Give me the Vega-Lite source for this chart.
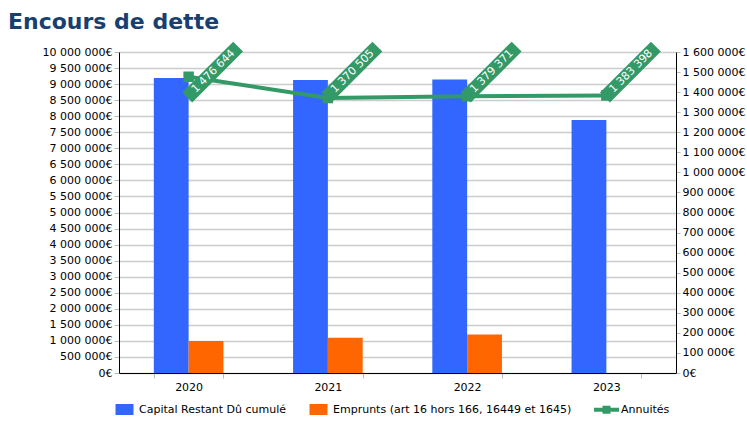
{
  "$schema": "https://vega.github.io/schema/vega-lite/v6.json",
  "width": 557,
  "height": 321,
  "padding": {"left": 8, "top": 10, "right": 2, "bottom": 2},
  "background": "white",
  "config": {
    "font": "DejaVu Sans",
    "locale": {"number": {"decimal": ",", "thousands": " ", "grouping": [3], "currency": ["", "€"]}},
    "view": {"stroke": null},
    "axis": {"labelFont": "DejaVu Sans", "labelFontSize": 11, "labelColor": "#000", "domainColor": "#000", "tickColor": "#bbb", "gridColor": "#cccccc", "gridWidth": 1.3, "labelOverlap": false}
  },
  "title": {"text": "Encours de dette", "anchor": "start", "frame": "group", "dx": -111, "fontSize": 22, "fontWeight": "bold", "color": "#173f6f", "offset": 8},
  "datasets": {
    "barres": [
      {"annee": "2020", "serie": "Capital Restant Dû cumulé", "valeur": 9190000},
      {"annee": "2020", "serie": "Emprunts (art 16 hors 166, 16449 et 1645)", "valeur": 1000000},
      {"annee": "2021", "serie": "Capital Restant Dû cumulé", "valeur": 9130000},
      {"annee": "2021", "serie": "Emprunts (art 16 hors 166, 16449 et 1645)", "valeur": 1100000},
      {"annee": "2022", "serie": "Capital Restant Dû cumulé", "valeur": 9140000},
      {"annee": "2022", "serie": "Emprunts (art 16 hors 166, 16449 et 1645)", "valeur": 1200000},
      {"annee": "2023", "serie": "Capital Restant Dû cumulé", "valeur": 7880000}
    ],
    "annuites": [
      {"annee": "2020", "serie": "Annuités", "valeur": 1476644},
      {"annee": "2021", "serie": "Annuités", "valeur": 1370505},
      {"annee": "2022", "serie": "Annuités", "valeur": 1379371},
      {"annee": "2023", "serie": "Annuités", "valeur": 1383398}
    ]
  },
  "layer": [
    {
      "data": {"name": "barres"},
      "mark": {"type": "bar"},
      "encoding": {
        "x": {"field": "annee", "type": "nominal", "scale": {"paddingInner": 0.5, "paddingOuter": 0.25},
              "axis": {"title": null, "labelAngle": 0, "tickBand": "extent", "tickSize": 5, "labelPadding": 3, "grid": false}},
        "xOffset": {"field": "serie", "type": "nominal", "scale": {"domain": ["Capital Restant Dû cumulé", "Emprunts (art 16 hors 166, 16449 et 1645)"]}},
        "y": {"field": "valeur", "type": "quantitative", "scale": {"domain": [0, 10000000]},
              "axis": {"title": null, "format": "$,d", "tickSize": 5, "labelPadding": 2,
                       "values": [0, 500000, 1000000, 1500000, 2000000, 2500000, 3000000, 3500000, 4000000, 4500000, 5000000, 5500000, 6000000, 6500000, 7000000, 7500000, 8000000, 8500000, 9000000, 9500000, 10000000]}},
        "color": {"field": "serie", "type": "nominal",
                  "scale": {"domain": ["Capital Restant Dû cumulé", "Emprunts (art 16 hors 166, 16449 et 1645)", "Annuités"], "range": ["#3366ff", "#ff6600", "#339966"]},
                  "legend": {"orient": "bottom", "direction": "horizontal", "title": null, "labelFontSize": 11, "labelColor": "#000", "labelLimit": 400, "symbolSize": 100, "labelOffset": 9, "columnPadding": 22, "offset": 12,
                             "encode": {"symbols": {"update": {
                               "shape": {"signal": "datum.value === 'Annuités' ? 'M-2.5,-0.4H2.5V0.4H-2.5Z M-0.8,-0.8H0.8V0.8H-0.8Z' : 'M-1.8,-1.1H1.8V1.1H-1.8Z'"},
                               "fill": {"signal": "scale('color', datum.value)"},
                               "strokeWidth": {"value": 0},
                               "opacity": {"value": 1}}}}}}
      }
    },
    {
      "data": {"name": "annuites"},
      "mark": {"type": "line", "strokeWidth": 4},
      "encoding": {
        "x": {"field": "annee", "type": "nominal"},
        "y": {"field": "valeur", "type": "quantitative", "scale": {"domain": [0, 1600000]},
              "axis": {"orient": "right", "title": null, "grid": false, "format": "$,d", "tickSize": 4, "labelPadding": 2, "labelOverlap": false,
                       "values": [0, 100000, 200000, 300000, 400000, 500000, 600000, 700000, 800000, 900000, 1000000, 1100000, 1200000, 1300000, 1400000, 1500000, 1600000]}},
        "color": {"field": "serie", "type": "nominal"}
      }
    },
    {
      "data": {"name": "annuites"},
      "mark": {"type": "point", "filled": true, "shape": "square", "size": 110, "color": "#339966", "opacity": 1},
      "encoding": {
        "x": {"field": "annee", "type": "nominal"},
        "y": {"field": "valeur", "type": "quantitative", "scale": {"domain": [0, 1600000]}, "axis": null}
      }
    },
    {
      "data": {"name": "annuites"},
      "mark": {"type": "point", "filled": true, "shape": "M-0.127,-0.071L0.071,0.127L1.089,-0.891L0.891,-1.089Z", "size": 10000, "color": "#339966", "opacity": 1, "strokeWidth": 0},
      "encoding": {
        "x": {"field": "annee", "type": "nominal"},
        "y": {"datum": 1380000, "type": "quantitative", "scale": {"domain": [0, 1600000]}, "axis": null}
      }
    },
    {
      "data": {"name": "annuites"},
      "mark": {"type": "text", "align": "left", "baseline": "middle", "angle": 315, "dx": 7, "color": "white", "fontSize": 11},
      "encoding": {
        "x": {"field": "annee", "type": "nominal"},
        "y": {"datum": 1380000, "type": "quantitative", "scale": {"domain": [0, 1600000]}, "axis": null},
        "text": {"field": "valeur", "type": "quantitative", "format": ",d"}
      }
    }
  ],
  "resolve": {"scale": {"y": "independent"}}
}
